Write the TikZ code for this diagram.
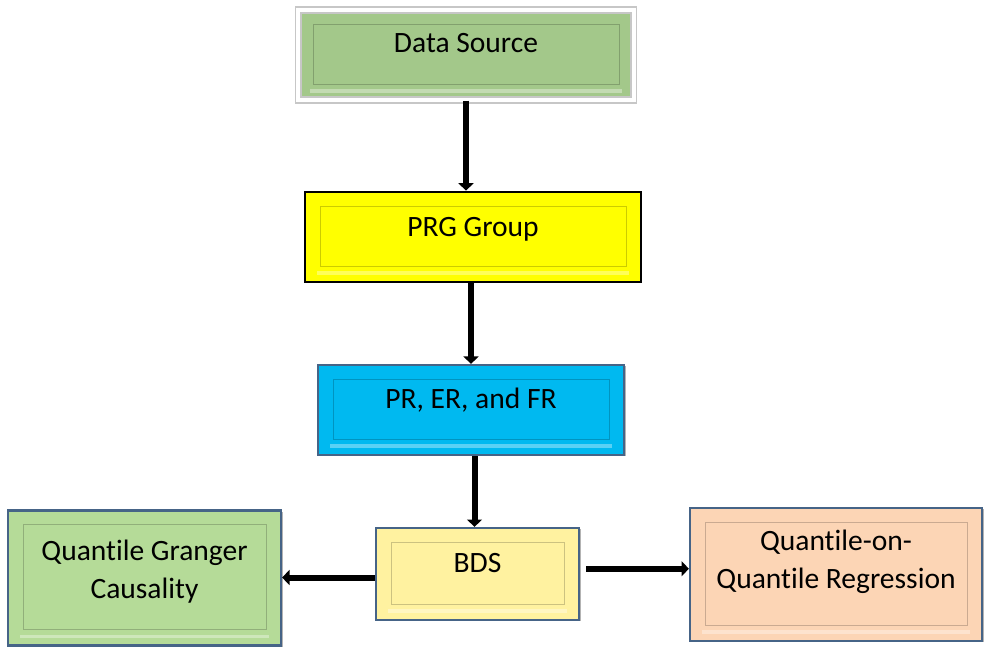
\documentclass[tikz,border=0pt]{standalone}
\usepackage{fontspec}
\setmainfont{Carlito}[Ligatures=NoCommon]
\usepackage{xcolor}
\usetikzlibrary{arrows.meta,shadows}
\definecolor{srcgreen}{RGB}{163,200,138}
\definecolor{prgyellow}{RGB}{255,255,0}
\definecolor{ratioblue}{RGB}{0,185,240}
\definecolor{bdsyellow}{RGB}{255,242,160}
\definecolor{qgcgreen}{RGB}{181,219,152}
\definecolor{qoqpeach}{RGB}{252,213,181}
\definecolor{boxedge}{RGB}{70,100,135}
\tikzset{
 bevelbox/.style={rectangle,fill=#1,inner sep=0pt,line width=1.3pt,
  path picture={
   \draw[#1!80!black,line width=.5pt]
    ([shift={(8.5pt,-8pt)}]path picture bounding box.north west)
    rectangle ([shift={(-8.5pt,9pt)}]path picture bounding box.south east);
   \draw[white,opacity=.35,line width=2pt]
    ([shift={(7pt,5pt)}]path picture bounding box.south west)
    -- ([shift={(-7pt,5pt)}]path picture bounding box.south east);}},
 edgeshadow/.style={drop shadow={shadow xshift=1.2pt,shadow yshift=-.6pt,opacity=.6}},
 boxtext/.style={font=\fontsize{16.8}{21.5}\selectfont,align=center,inner sep=0pt},
 flow/.style={line width=3.4pt,-{Triangle[length=4.2pt,width=8.5pt]}}
}
\begin{document}
\begin{tikzpicture}[x=.02cm,y=-.02cm]
 \useasboundingbox (0,0) rectangle (989,646);

 % the data chain from top to bottom
 \node[bevelbox=srcgreen,draw=black!22,double=white,double distance=2.4pt,
  line width=.8pt,drop shadow={opacity=.25,shadow xshift=.6pt,shadow yshift=-.8pt},
  minimum width=6.72cm,minimum height=1.8cm] (src) at (466,55) {};
 \node[boxtext,anchor=base] (srctxt) at (466,52) {Data Source};

 \node[bevelbox=prgyellow,draw=black,line width=1.6pt,
  minimum width=6.72cm,minimum height=1.8cm] (prg) at (473,237) {};
 \node[boxtext,anchor=base] (prgtxt) at (473,236) {PRG Group};

 \node[bevelbox=ratioblue,draw=boxedge,edgeshadow,
  minimum width=6.12cm,minimum height=1.8cm] (ratio) at (471,410) {};
 \node[boxtext,anchor=base] (ratiotxt) at (471,408) {PR, ER, and FR};

 \node[bevelbox=bdsyellow,draw=boxedge,edgeshadow,
  minimum width=4.06cm,minimum height=1.84cm] (bds) at (477.5,574) {};
 \node[boxtext,anchor=base] (bdstxt) at (477.5,572) {BDS};

 % the two methods on either side
 \node[bevelbox=qgcgreen,draw=boxedge,edgeshadow,
  minimum width=5.46cm,minimum height=2.7cm] (qgc) at (144.5,578) {};
 \node[boxtext] (qgctxt) at (144.5,572) {Quantile Granger\\Causality};

 \node[bevelbox=qoqpeach,draw=boxedge,edgeshadow,
  minimum width=5.84cm,minimum height=2.66cm] (qoq) at (836,574.5) {};
 \node[boxtext] (qoqtxt) at (836,562) {Quantile-on-\\Quantile Regression};

 \draw[flow] (src.south) -- (src.south |- prg.north);
 \draw[flow] (prg.south -| ratio.north) -- (ratio.north);
 \draw[flow] ([xshift=2pt]ratio.south) -- ([xshift=2pt]ratio.south |- bds.north);
 \draw[flow] ([yshift=-2pt]bds.west) -- ([yshift=-2pt]bds.west -| qgc.east);
 \draw[flow] ([xshift=3.4pt,yshift=3pt]bds.east) -- ([yshift=3pt]bds.east -| qoq.west);
\end{tikzpicture}
\end{document}
